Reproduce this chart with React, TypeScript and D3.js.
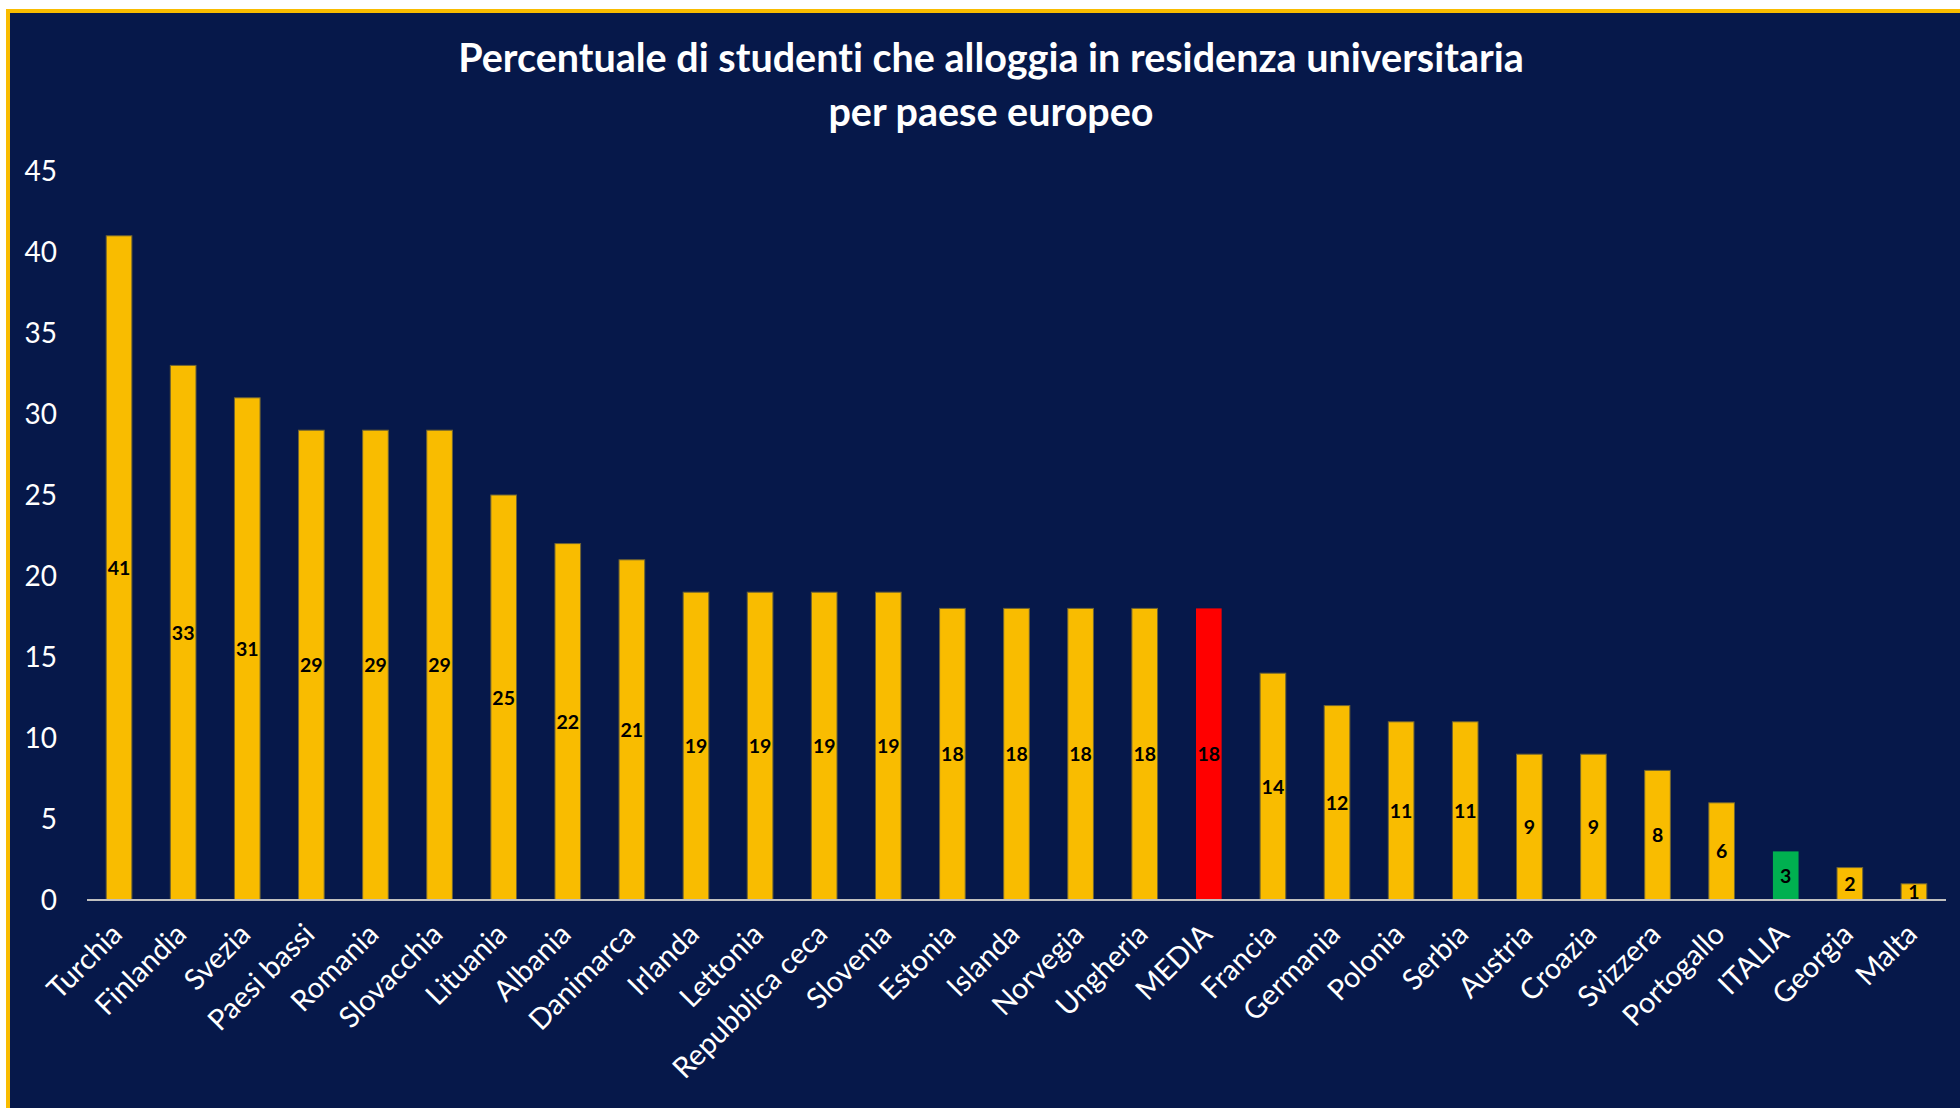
import * as d3 from 'd3'

const countries = [
  'Turchia', 'Finlandia', 'Svezia', 'Paesi bassi', 'Romania', 'Slovacchia',
  'Lituania', 'Albania', 'Danimarca', 'Irlanda', 'Lettonia', 'Repubblica ceca',
  'Slovenia', 'Estonia', 'Islanda', 'Norvegia', 'Ungheria', 'MEDIA', 'Francia',
  'Germania', 'Polonia', 'Serbia', 'Austria', 'Croazia', 'Svizzera',
  'Portogallo', 'ITALIA', 'Georgia', 'Malta',
]
const values = [
  41, 33, 31, 29, 29, 29, 25, 22, 21, 19, 19, 19, 19, 18, 18, 18, 18, 18, 14,
  12, 11, 11, 9, 9, 8, 6, 3, 2, 1,
]
const yTicks = [0, 5, 10, 15, 20, 25, 30, 35, 40, 45]
const titleLines = [
  'Percentuale di studenti che alloggia in residenza universitaria',
  'per paese europeo',
]

const W = 1960
const H = 1108
const BG = '#06184a'
const GOLD = '#f9bc00'

function barColor(name: string): string {
  if (name === 'MEDIA') return '#ff0000'
  if (name === 'ITALIA') return '#00b050'
  return GOLD
}

export default function App() {
  const x = d3
    .scaleBand<string>()
    .domain(countries)
    .range([87, 1946])
    .paddingInner(0.6)
    .paddingOuter(0.3)

  const y = d3.scaleLinear().domain([0, 45]).range([900, 171])
  const bw = x.bandwidth()

  return (
    <svg
      width={W}
      height={H}
      style={{ position: 'absolute', left: 0, top: 0, display: 'block', fontVariantLigatures: 'none' }}
      fontFamily="Lato, 'Open Sans', sans-serif"
    >
      <rect x={0} y={0} width={W} height={H} fill="#ffffff" />
      <rect x={8} y={11} width={W + 20} height={H + 20} fill={BG} stroke={GOLD} strokeWidth={4} />

      {/* title */}
      {titleLines.map((t, i) => (
        <text
          key={t}
          x={991}
          y={72 + i * 54}
          textAnchor="middle"
          fill="#ffffff"
          fontWeight="bold"
          fontSize={39.5}
        >
          {t}
        </text>
      ))}

      {/* y axis labels */}
      {yTicks.map((t) => (
        <text
          key={t}
          x={57}
          y={y(t)}
          dy="0.36em"
          textAnchor="end"
          fill="#ffffff"
          fontSize={28}
        >
          {t}
        </text>
      ))}

      {/* bars */}
      {countries.map((c, i) => {
        const v = values[i]
        const col = barColor(c)
        return (
          <rect
            key={c}
            x={x(c)}
            y={y(v)}
            width={bw}
            height={y(0) - y(v)}
            fill={col}
            stroke={col === GOLD ? '#6f6434' : 'none'}
            strokeWidth={1}
          />
        )
      })}

      {/* baseline */}
      <line x1={87} x2={1946} y1={y(0)} y2={y(0)} stroke="#bfbfbf" strokeWidth={2} />

      {/* value labels */}
      {countries.map((c, i) => (
        <text
          key={c}
          x={(x(c) ?? 0) + bw / 2}
          y={(y(values[i]) + y(0)) / 2}
          dy="0.36em"
          textAnchor="middle"
          fill="#000000"
          fontWeight="bold"
          fontSize={19.5}
        >
          {values[i]}
        </text>
      ))}

      {/* category labels */}
      {countries.map((c) => {
        const cx = (x(c) ?? 0) + bw / 2
        return (
          <text
            key={c}
            transform={`translate(${cx + 5},936) rotate(-45)`}
            textAnchor="end"
            fill="#ffffff"
            fontSize={29}
          >
            {c}
          </text>
        )
      })}
    </svg>
  )
}
